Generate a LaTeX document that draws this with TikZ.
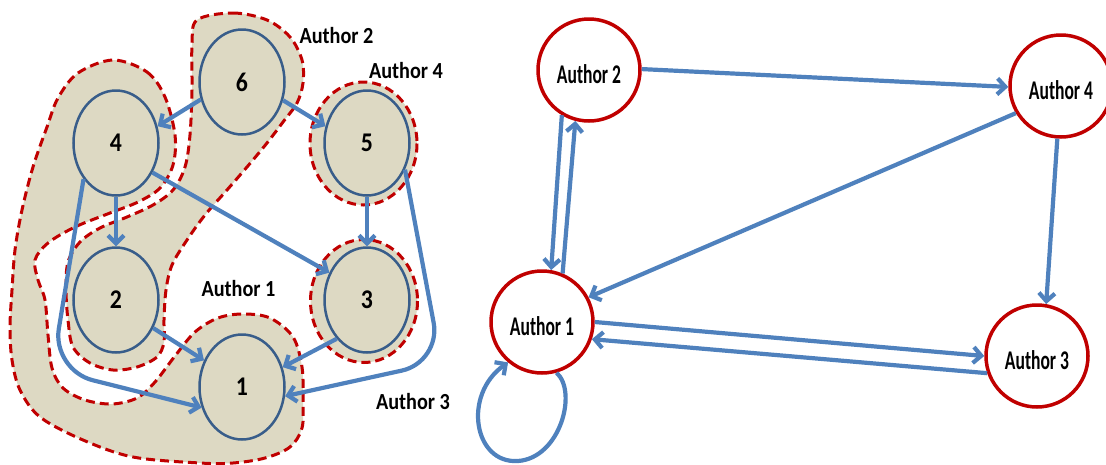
\documentclass[tikz,border=0pt]{standalone}
\usepackage{fontspec}
\setmainfont{Carlito}
\newfontfamily\leftfont[FakeStretch=0.88]{Carlito}
\newfontfamily\rightfont[FakeStretch=0.65]{Carlito}
\usetikzlibrary{arrows.meta,shapes.geometric}
\definecolor{edgeblue}{RGB}{79,129,189}
\definecolor{nodeblue}{RGB}{56,93,138}
\definecolor{darkred}{RGB}{192,0,0}
\definecolor{tanfill}{RGB}{221,217,195}
\tikzset{
  blob/.style={fill=tanfill, draw=darkred, line width=3pt, dash pattern=on 9pt off 5pt},
  lnode/.style={ellipse, draw=nodeblue, fill=tanfill, line width=2.5pt, minimum width=85pt, minimum height=105pt, inner sep=0pt, font=\leftfont\bfseries\fontsize{27}{27}\selectfont},
  rnode/.style={circle, draw=darkred, fill=white, line width=3.5pt, minimum size=102pt, inner sep=0pt, text height=27pt, text depth=0pt, font=\rightfont\bfseries\fontsize{27}{27}\selectfont},
  grouplabel/.style={inner sep=0pt, font=\leftfont\bfseries\fontsize{23}{23}\selectfont},
  conn/.style={draw=edgeblue, line width=4.2pt, -{Straight Barb[length=8pt,width=16pt]}},
}
\begin{document}
\begin{tikzpicture}[x=1pt,y=-1pt]
\useasboundingbox (0,0) rectangle (1106,464);

% ---------- left: group blobs ----------
% Author 1 group (nodes 4 and 1)
\draw[blob] plot[smooth cycle, tension=0.55] coordinates {
 (113,60) (147,72) (165,97) (175,135) (173,165) (160,188) (138,202) (110,213)
 (75,227) (48,243) (35,260) (38,280) (45,300) (48,335) (52,368) (63,388)
 (85,400) (112,404) (137,398) (155,382) (175,356) (195,332) (218,318) (243,314)
 (270,318) (293,337) (302,367) (303,400) (302,428) (290,447) (265,458) (233,463)
 (200,463) (133,457) (83,440) (40,417) (20,390) (12,360) (10,327) (12,290)
 (15,250) (22,210) (33,167) (47,127) (58,98) (78,73)};
% Author 2 group (nodes 6 and 2)
\draw[blob] plot[smooth cycle, tension=0.55] coordinates {
 (197,20) (233,13) (267,20) (290,37) (302,60) (303,83) (297,103) (283,122)
 (267,143) (247,167) (227,190) (205,215) (187,240) (172,265) (166,290) (164,320)
 (164,342) (157,357) (137,367) (113,370) (90,363) (73,347) (68,320) (66,290)
 (68,262) (80,242) (100,228) (127,217) (153,205) (173,190) (185,167) (190,135)
 (192,90) (192,45)};
% Author 4 group (node 5) and Author 3 group (node 3)
\draw[blob] (363.5,143.5) ellipse [x radius=53.5, y radius=61.5];
\draw[blob] (364,301) ellipse [x radius=53.5, y radius=61.5];

% ---------- left: nodes ----------
\node[lnode] (n6) at (242,82) {6};
\node[lnode] (n4) at (116,143) {4};
\node[lnode] (n5) at (367,143) {5};
\node[lnode] (n2) at (116,300) {2};
\node[lnode] (n3) at (367,300) {3};
\node[lnode] (n1) at (242,387) {1};

\node[grouplabel] (g2) at (336.5,35.5) {Author 2};
\node[grouplabel] (g4) at (406,70.5) {Author 4};
\node[grouplabel] (g1) at (238.5,288.5) {Author 1};
\node[grouplabel] (g3) at (413,401.5) {Author 3};

% ---------- left: edges ----------
\coordinate (k41) at (52,370);
\coordinate (k51) at (441,362);
\draw[conn] (n6.203) -- (n4.22);
\draw[conn] (n6.336) -- (n5.158);
\draw[conn] (n4.270) -- (n2.90);
\draw[conn] (n4.321) -- (n3.144);
\draw[conn] (n5.270) -- (n3.90);
\draw[conn] (n2.323) -- (n1.145);
\draw[conn] (n3.232) -- (n1.26);
\draw[conn, rounded corners=42pt] (n4.228) -- (k41) -- (n1.207);
\draw[conn, rounded corners=40pt] (n5.325) -- (k51) -- (n1.348);

% ---------- right: nodes ----------
\node[rnode] (a2) at (589,70) {Author 2};
\node[rnode] (a4) at (1061,86) {Author 4};
\node[rnode] (a1) at (542,322) {Author 1};
\node[rnode] (a3) at (1037,356) {Author 3};

% ---------- right: edges ----------
\draw[conn] (a2.1) -- (a4.181);
\draw[conn] (a2.239) -- (a1.80);
\draw[conn] (a1.67) -- (a2.255);
\draw[conn] (a4.211) -- (a1.28);
\draw[conn] (a4.266) -- (a3.80);
\draw[conn] (a1.0) -- (a3.180);
\draw[conn] (a3.199) -- (a1.341);
\coordinate (loopb) at (518,461);
\draw[conn] (a1.286) .. controls (578,392) and (560,458) .. (loopb)
  .. controls (474,464) and (462,395) .. (a1.230);
\end{tikzpicture}
\end{document}
